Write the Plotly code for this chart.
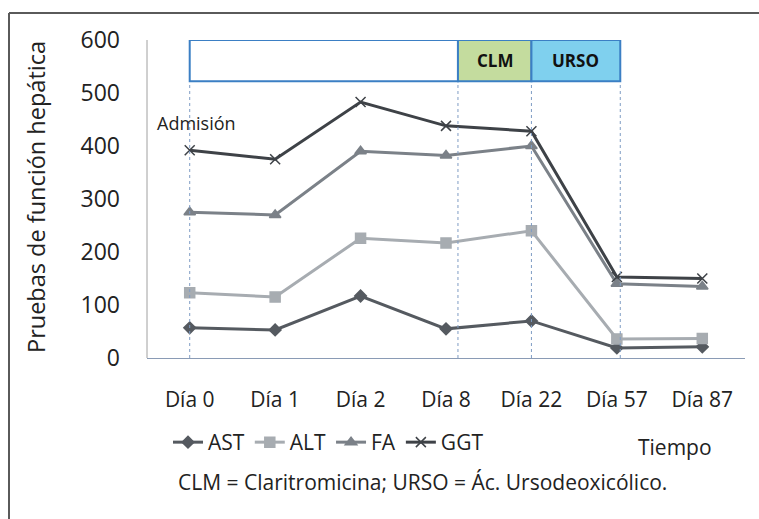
import plotly.graph_objects as go

categories = ["Día 0", "Día 1", "Día 2", "Día 8", "Día 22", "Día 57", "Día 87"]
ast = [57, 53, 117, 55, 70, 19, 21]
alt = [123, 115, 226, 217, 240, 36, 37]
fa = [275, 270, 390, 382, 400, 140, 135]
ggt = [392, 375, 483, 438, 428, 153, 150]
y_ticks = [0, 100, 200, 300, 400, 500, 600]

# treatment periods (in category-index units)
clm_start, urso_start, urso_end = 3.14, 4.0, 5.04

FONT = "Open Sans, Noto Sans, DejaVu Sans, sans-serif"
W, H = 759, 519
L, R, T, B = 147, 745, 40, 358

fig = go.Figure()
series = [
    ("AST", ast, "#555a60", "diamond", 9),
    ("ALT", alt, "#a7acb1", "square", 10),
    ("FA", fa, "#7b8188", "triangle-up", 10),
    ("GGT", ggt, "#3e4247", "x-thin", 10),
]
xs = list(range(len(categories)))
for name, vals, col, sym, sz in series:
    fig.add_trace(go.Scatter(
        x=xs, y=vals, name=name, mode="lines+markers",
        line=dict(color=col, width=3),
        marker=dict(symbol=sym, size=sz, color=col, line=dict(color=col, width=1.5)),
    ))

def px_x(p):
    return (p - L) / (R - L)

def px_y(p):
    return (B - p) / (B - T)

shapes = []
# outer frame (top and left edges visible)
shapes.append(dict(type="line", xref="paper", yref="paper",
                   x0=px_x(9), x1=px_x(762), y0=px_y(13), y1=px_y(13),
                   line=dict(color="#5a5a5a", width=2)))
shapes.append(dict(type="line", xref="paper", yref="paper",
                   x0=px_x(9), x1=px_x(9), y0=px_y(13), y1=px_y(522),
                   line=dict(color="#5a5a5a", width=2)))
# dashed guides
for xv in [0, clm_start, urso_start, urso_end]:
    shapes.append(dict(type="line", xref="x", yref="y", x0=xv, x1=xv, y0=0, y1=522,
                       line=dict(color="#7f9cc4", width=1, dash="3px,3px")))
# treatment boxes
shapes.append(dict(type="rect", xref="x", yref="y", x0=0, x1=clm_start, y0=522, y1=600,
                   line=dict(color="#3b7fc4", width=2), fillcolor="white"))
shapes.append(dict(type="rect", xref="x", yref="y", x0=clm_start, x1=urso_start, y0=522, y1=600,
                   line=dict(color="#3b7fc4", width=2), fillcolor="#c4dc9e"))
shapes.append(dict(type="rect", xref="x", yref="y", x0=urso_start, x1=urso_end, y0=522, y1=600,
                   line=dict(color="#3b7fc4", width=2), fillcolor="#7fd0ee"))
# y axis line
shapes.append(dict(type="line", xref="paper", yref="paper", x0=0, x1=0, y0=0, y1=1,
                   line=dict(color="#a0a0a0", width=1)))

def note(text, x, y, size, **kw):
    d = dict(x=px_x(x), y=px_y(y), xref="paper", yref="paper", text=text,
             xanchor="center", yanchor="middle", showarrow=False,
             font=dict(family=FONT, size=size, color="#222"))
    d.update(kw)
    return d

annotations = [
    dict(x=(clm_start + urso_start) / 2, y=561, xref="x", yref="y", text="<b>CLM</b>",
         xanchor="center", yanchor="middle",
         showarrow=False, font=dict(family=FONT, size=17, color="#111")),
    dict(x=(urso_start + urso_end) / 2, y=561, xref="x", yref="y", text="<b>URSO</b>",
         xanchor="center", yanchor="middle",
         showarrow=False, font=dict(family=FONT, size=17, color="#111")),
    note("Admisión", 196, 123, 18),
    note("Tiempo", 675, 447, 21),
    note("CLM = Claritromicina; URSO = Ác. Ursodeoxicólico.", 422, 482, 21),
    note("Pruebas de función hepática", 36, 197, 23.5, textangle=-90),
]

fig.update_layout(
    width=W, height=H,
    margin=dict(l=L, r=W - R, t=T, b=H - B, autoexpand=False),
    paper_bgcolor="white", plot_bgcolor="white",
    font=dict(family=FONT, color="#222"),
    shapes=shapes, annotations=annotations,
    showlegend=True,
    legend=dict(orientation="h", x=px_x(168), y=px_y(422), xanchor="left", yanchor="top",
                font=dict(family=FONT, size=21, color="#222"), itemwidth=30,
                tracegroupgap=0, bgcolor="rgba(0,0,0,0)"),
    xaxis=dict(range=[-0.5, 6.5], tickmode="array", tickvals=xs, ticktext=categories,
               showgrid=False, zeroline=False, showline=True, linecolor="#8a9bb5",
               linewidth=1, ticks="", ticklabelstandoff=23,
               tickfont=dict(family=FONT, size=21, color="#222")),
    yaxis=dict(range=[0, 600], tickmode="array", tickvals=y_ticks,
               showgrid=False, zeroline=False, showline=False, ticks="",
               ticklabelstandoff=26, tickfont=dict(family=FONT, size=23, color="#222")),
)

fig.write_html(
    "out.html",
    config={"displayModeBar": False},
    post_script="document.body.style.margin='0';document.body.style.overflow='hidden';",
)
